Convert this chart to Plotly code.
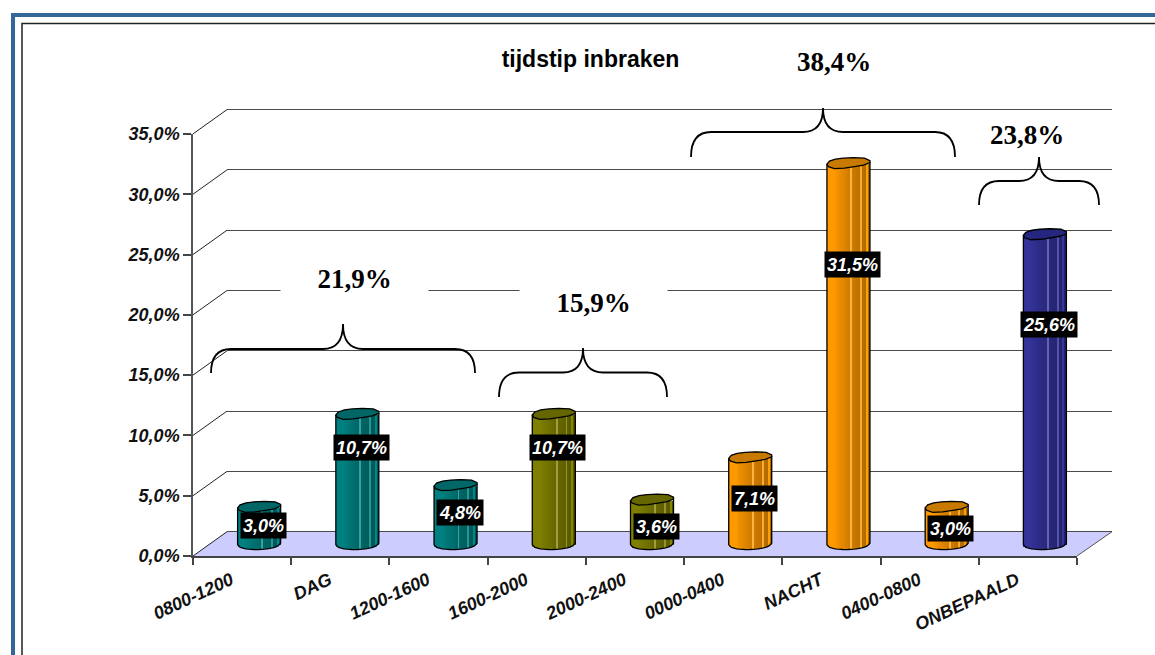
import numpy as np
import plotly.graph_objects as go

# Chart data
categories = ['0800-1200', 'DAG', '1200-1600', '1600-2000', '2000-2400', '0000-0400', 'NACHT', '0400-0800', 'ONBEPAALD']
values = [3.0, 10.7, 4.8, 10.7, 3.6, 7.1, 31.5, 3.0, 25.6]
value_labels = ['3,0%', '10,7%', '4,8%', '10,7%', '3,6%', '7,1%', '31,5%', '3,0%', '25,6%']
y_ticks = [0, 5, 10, 15, 20, 25, 30, 35]
y_tick_labels = ['0,0%', '5,0%', '10,0%', '15,0%', '20,0%', '25,0%', '30,0%', '35,0%']
group_labels = ['21,9%', '15,9%', '38,4%', '23,8%']

W, H = 1155, 655
PX_PER_CAT = 98.22
PX_PER_PCT = 12.06

# Style of the fake 3D look
base_colors = [(0, 128, 128)] * 3 + [(128, 128, 0)] * 2 + [(255, 153, 0)] * 3 + [(51, 51, 153)]
cap_colors = ['#006666'] * 3 + ['#666600'] * 2 + ['#c87a00'] * 3 + ['#262680']
strip_shades = [1.0, 1.0, 1.0, 1.0, 0.98, 0.95, 0.92, 0.9, 0.88, 0.86, 0.84, 0.82, 1.15, 0.8, 0.78, 0.76, 0.75, 1.1, 0.72, 0.7, 1.05, 0.68]
label_heights = [0.52, 0.75, 0.55, 0.75, 0.41, 0.535, 0.737, 0.44, 0.71]
half_w = 21.5 / PX_PER_CAT


def fx(px):
    return px / W


def fy(py):
    return 1 - py / H


def paper_path(points):
    return 'M ' + ' L '.join(f'{fx(a):.5f},{fy(b):.5f}' for a, b in points)


def shade(rgb, k):
    if k > 1.07:
        return 'rgb(' + ','.join(str(int(c + (255 - c) * (k - 1) * 1.6)) for c in rgb) + ')'
    return 'rgb(' + ','.join(str(int(min(255, c * k))) for c in rgb) + ')'


def bar_bottom(t):
    return -(np.sqrt(np.clip(1 - t ** 2, 0, 1)) * 5.5 - 0.8 * t) / PX_PER_PCT


fig = go.Figure()
xpos = list(range(len(categories)))

# back wall, only there for the gridlines
fig.add_trace(go.Scatter(x=[0, 1], y=[0, 35], mode='none', xaxis='x', yaxis='y', hoverinfo='skip', showlegend=False))

# cylinders, each one cut into narrow vertical strips to get the shading
n = len(strip_shades)
edges = np.linspace(-1, 1, n + 1)
for i in range(n):
    t = (edges[i] + edges[i + 1]) / 2
    b = bar_bottom(t)
    fig.add_trace(go.Bar(
        x=xpos, y=[v - b for v in values], base=[b] * len(values),
        width=2 * half_w / n * 1.15, offset=edges[i] * half_w,
        marker=dict(color=[shade(c, strip_shades[i]) for c in base_colors], line_width=0),
        xaxis='x2', yaxis='y2', hoverinfo='skip', showlegend=False))

# front axes, invisible trace so that they get drawn
fig.add_trace(go.Bar(x=categories, y=values, marker_opacity=0, xaxis='x3', yaxis='y3', hoverinfo='skip', showlegend=False))

shapes = []
# frame
shapes.append(dict(type='rect', xref='paper', yref='paper', x0=fx(13), x1=fx(1175), y0=fy(15), y1=fy(680),
                   line=dict(color='#336699', width=4)))
shapes.append(dict(type='rect', xref='paper', yref='paper', x0=fx(22), x1=fx(1175), y0=fy(23.5), y1=fy(680),
                   line=dict(color='#222222', width=1.5)))
# floor
shapes.append(dict(type='path', xref='paper', yref='paper', layer='below',
                   path=paper_path([(193, 556), (227, 531.7), (1112, 531.7), (1077, 556)]) + ' Z',
                   fillcolor='#ccccff', line_width=0))
# side wall lines joining the ticks to the gridlines
for v in y_ticks[1:]:
    y_front = 556 - v * PX_PER_PCT
    shapes.append(dict(type='line', xref='paper', yref='paper', layer='below',
                       x0=fx(193), y0=fy(y_front), x1=fx(227), y1=fy(y_front - 24.3),
                       line=dict(color='#222222', width=1)))
shapes.append(dict(type='line', xref='paper', yref='paper', layer='below',
                   x0=fx(193), y0=fy(556), x1=fx(227), y1=fy(531.7), line=dict(color='#222222', width=1)))
shapes.append(dict(type='line', xref='paper', yref='paper', layer='below',
                   x0=fx(1077), y0=fy(556), x1=fx(1112), y1=fy(531.7), line=dict(color='#555555', width=1)))

# cap and outline of every cylinder, in the bar axes
cap = [(-21.5, 0), (-19, -3), (-13, -5), (-5, -6), (5, -6.5), (16, -6), (21.5, -3.5), (21.5, -1.5),
       (15, 1), (6, 2.5), (-4, 4), (-14, 4.5), (-20, 2.5)]
arc = np.linspace(-1, 1, 17)
for i, v in enumerate(values):
    cap_pts = [(i + a / PX_PER_CAT, v - b / PX_PER_PCT) for a, b in cap]
    shapes.append(dict(type='path', xref='x2', yref='y2', fillcolor=cap_colors[i],
                       path='M ' + ' L '.join(f'{a:.4f},{b:.3f}' for a, b in cap_pts) + ' Z',
                       line=dict(color='#000000', width=1.3)))
    side = [(i - half_w, v)] + [(i + t * half_w, bar_bottom(t)) for t in arc] + [(i + half_w, v + 2 / PX_PER_PCT)]
    shapes.append(dict(type='path', xref='x2', yref='y2',
                       path='M ' + ' L '.join(f'{a:.4f},{b:.3f}' for a, b in side),
                       line=dict(color='#000000', width=1.3)))

# braces: left, right, middle x, tip y, flat y, end y
braces = [(211, 475, 343, 324, 349, 373), (499, 667, 583, 348, 372.5, 397),
          (691, 955, 823, 108, 132, 157), (979, 1099, 1039, 157, 181, 205)]
for x0, x1, xm, tip, flat, end in braces:
    r = 20
    p = (f'M {fx(x0)},{fy(end)} Q {fx(x0)},{fy(flat)} {fx(x0 + r)},{fy(flat)} '
         f'L {fx(xm - r)},{fy(flat)} Q {fx(xm)},{fy(flat)} {fx(xm)},{fy(tip)} '
         f'Q {fx(xm)},{fy(flat)} {fx(xm + r)},{fy(flat)} '
         f'L {fx(x1 - r)},{fy(flat)} Q {fx(x1)},{fy(flat)} {fx(x1)},{fy(end)}')
    shapes.append(dict(type='path', xref='paper', yref='paper', path=p, line=dict(color='#000000', width=1.8)))

annotations = []
for i, txt in enumerate(value_labels):
    annotations.append(dict(x=i + 4 / PX_PER_CAT, y=values[i] * label_heights[i], xref='x2', yref='y2', text=txt,
                            showarrow=False, bgcolor='#000000', borderpad=2, height=21,
                            font=dict(family='Liberation Sans', size=18, color='#ffffff', weight='bold', style='italic')))
# group totals, the two lower ones have a white box that cuts the gridline
group_pos = [(354, 279, 145, 34), (594, 303, 145, 34), (834, 62, None, None), (1027, 135, None, None)]
for txt, (a, b, bw, bh) in zip(group_labels, group_pos):
    note = dict(x=fx(a), y=fy(b), xref='paper', yref='paper', xanchor='center', yanchor='middle', text=txt, showarrow=False,
                font=dict(family='Liberation Serif', size=27, color='#000000', weight='bold'))
    if bw:
        note.update(bgcolor='#ffffff', width=bw, height=bh)
    annotations.append(note)

tick_font = dict(family='Liberation Sans', size=18, color='#111111', weight='bold', style='italic')
cat_font = dict(family='Liberation Sans', size=18, color='#111111', weight='bold', style='italic')

# the top gridline sits right on the domain edge, so the back axis runs a little past 35
fig.update_layout(
    width=W, height=H, margin=dict(l=0, r=0, t=0, b=0, pad=0),
    paper_bgcolor='#ffffff', plot_bgcolor='rgba(0,0,0,0)',
    showlegend=False, barmode='overlay', bargap=0,
    title=dict(text='<b>tijdstip inbraken</b>', x=fx(590.5), xanchor='center', y=fy(59), yanchor='middle',
               font=dict(family='Liberation Sans', size=23, color='#000000')),
    # back wall
    xaxis=dict(domain=[fx(227), fx(1112)], range=[0, 1], showgrid=False, showticklabels=False, zeroline=False, ticks='',
               automargin=False),
    yaxis=dict(domain=[fy(531.7 + PX_PER_PCT), fy(531.7 - 36 * PX_PER_PCT)], range=[-1, 36], tickvals=y_ticks, showticklabels=False,
               showgrid=True, gridcolor='#4a4a4a', gridwidth=1.4, zeroline=False, ticks='', automargin=False),
    # bars, half way between the front and the back
    xaxis2=dict(domain=[fx(193 + 17), fx(1077 + 17)], range=[-0.5, len(categories) - 0.5], visible=False, anchor='y2',
                automargin=False),
    yaxis2=dict(domain=[fy(544 + PX_PER_PCT), fy(544 - 35 * PX_PER_PCT)], range=[-1, 35], visible=False, anchor='x2',
                automargin=False),
    # front axes
    xaxis3=dict(domain=[fx(193), fx(1077)], type='category', categoryorder='array', categoryarray=categories,
                range=[-0.5, len(categories) - 0.5], anchor='y3', tickson='boundaries', ticks='outside', ticklen=7,
                tickwidth=1.5, tickcolor='#444444', showline=True, linecolor='#444444', linewidth=1.5,
                showgrid=False, zeroline=False, tickangle=-25, tickfont=cat_font, ticklabelshift=-11,
                ticklabelstandoff=5, automargin=False),
    yaxis3=dict(domain=[fy(556), fy(556 - 35 * PX_PER_PCT)], range=[0, 35], anchor='x3', tickvals=y_ticks,
                ticktext=y_tick_labels, ticks='outside', ticklen=8, tickwidth=1.5, tickcolor='#444444',
                showline=True, linecolor='#555555', linewidth=1.5, showgrid=False, zeroline=False, tickfont=tick_font,
                automargin=False),
    shapes=shapes, annotations=annotations,
)

fig.write_html('out.html', config=dict(displayModeBar=False), post_script="document.body.style.margin='0';")
